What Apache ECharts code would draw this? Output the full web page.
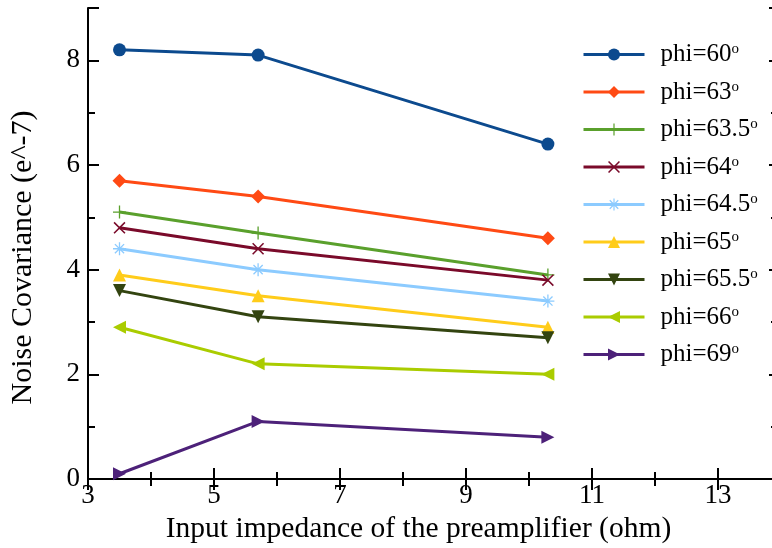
<!DOCTYPE html>
<html>
<head>
<meta charset="utf-8">
<script src="https://cdn.jsdelivr.net/npm/echarts@6/dist/echarts.min.js"></script>
<style>
  html, body { margin: 0; padding: 0; background: #fff; }
  #chart { width: 772px; height: 548px; }
</style>
</head>
<body>
<div id="chart"></div>
<script>
// Input impedance of the preamplifier (ohm)
const impedance = [3.5, 5.7, 10.3];

// Noise covariance (e^-7) for each angle phi
const phiLabels = ['60', '63', '63.5', '64', '64.5', '65', '65.5', '66', '69'];
const phi60   = [8.2, 8.1, 6.4];
const phi63   = [5.7, 5.4, 4.6];
const phi63_5 = [5.1, 4.7, 3.9];
const phi64   = [4.8, 4.4, 3.8];
const phi64_5 = [4.4, 4.0, 3.4];
const phi65   = [3.9, 3.5, 2.9];
const phi65_5 = [3.6, 3.1, 2.7];
const phi66   = [2.9, 2.2, 2.0];
const phi69   = [0.1, 1.1, 0.8];
const seriesValues = [phi60, phi63, phi63_5, phi64, phi64_5, phi65, phi65_5, phi66, phi69];

const xTickLabels = [3, 5, 7, 9, 11, 13];
const yTickLabels = [0, 2, 4, 6, 8];

const colors = ['#0c4a8e', '#ff4a14', '#5aa02c', '#7a0a2a', '#8ccbff',
                '#ffcc1a', '#334410', '#aacc00', '#4d2179'];

// marker shapes drawn as filled bars
const plusPath = 'path://M-1,-10L1,-10L1,10L-1,10ZM-10,-1L10,-1L10,1L-10,1Z';
const crossPath = 'path://M-6.36,-7.78L7.78,6.36L6.36,7.78L-7.78,-6.36ZM-7.78,6.36L6.36,-7.78L7.78,-6.36L-6.36,7.78Z';
const starPath = 'path://M-1,-10L1,-10L1,10L-1,10ZM-10,-1L10,-1L10,1L-10,1Z' +
  'M-6.36,-7.78L7.78,6.36L6.36,7.78L-7.78,-6.36ZM-7.78,6.36L6.36,-7.78L7.78,-6.36L-6.36,7.78Z';

const markers = [
  { symbol: 'circle',   size: 13, rotate: 0 },
  { symbol: 'diamond',  size: 14, rotate: 0 },
  { symbol: plusPath,   size: 13, rotate: 0 },
  { symbol: crossPath,  size: 12, rotate: 0 },
  { symbol: starPath,   size: 13, rotate: 0 },
  { symbol: 'triangle', size: 13, rotate: 0 },
  { symbol: 'triangle', size: 13, rotate: 180 },
  { symbol: 'triangle', size: 13, rotate: 90 },
  { symbol: 'triangle', size: 13, rotate: -90 }
];

const FONT = 'Liberation Serif';
const X_MIN = 3, X_MAX = 14, Y_MIN = 0, Y_MAX = 9;

function frameAxis(base, extra) {
  return Object.assign({
    min: base.min, max: base.max, interval: base.interval,
    axisLine: { show: false },
    axisLabel: { show: false },
    splitLine: { show: false },
    axisTick: { show: true, inside: true, length: base.tick, lineStyle: { color: '#000', width: 2 } }
  }, extra);
}

const series = seriesValues.map((vals, i) => ({
  name: 'phi=' + phiLabels[i],
  type: 'line',
  xAxisIndex: 0,
  yAxisIndex: 0,
  data: impedance.map((x, k) => [x, vals[k]]),
  color: colors[i],
  symbol: markers[i].symbol,
  symbolSize: markers[i].size,
  symbolRotate: markers[i].rotate,
  showAllSymbol: true,
  lineStyle: { width: 3, color: colors[i] },
  itemStyle: { color: colors[i] },
  emphasis: { disabled: true },
  animation: false
}));

const chart = echarts.init(document.getElementById('chart'));
chart.setOption({
  backgroundColor: '#fff',
  animation: false,
  // the frame runs on past the right edge of the canvas
  grid: { left: 88, top: 8, width: 693, height: 471, containLabel: false, outerBoundsMode: 'none' },
  legend: {
    orient: 'vertical',
    left: 577,
    top: 37,
    itemWidth: 61,
    itemHeight: 15,
    itemGap: 12.5,
    data: series.map(s => s.name),
    formatter: name => name + '{sup|o}',
    lineStyle: { width: 3 },
    textStyle: {
      fontFamily: FONT, fontSize: 25, color: '#000', lineHeight: 24.5,
      padding: [0, 0, 0, 11],
      rich: { sup: { fontFamily: FONT, fontSize: 15, color: '#000', lineHeight: 24.5, padding: [0, 0, 10, 0] } }
    }
  },
  xAxis: [
    {
      type: 'value', position: 'bottom', min: X_MIN, max: X_MAX, interval: 1,
      name: 'Input impedance of the preamplifier (ohm)',
      nameLocation: 'middle', nameGap: 31,
      nameTextStyle: { fontFamily: FONT, fontSize: 29.5, color: '#000', padding: [0, 32, 0, 0] },
      axisLine: { show: true, lineStyle: { color: '#000', width: 2 } },
      axisTick: { show: true, inside: true, length: 7, lineStyle: { color: '#000', width: 2 } },
      axisLabel: {
        fontFamily: FONT, fontSize: 27, color: '#000', margin: 3,
        formatter: v => (xTickLabels.indexOf(v) >= 0 ? String(v) : '')
      },
      splitLine: { show: false }
    },
    frameAxis({ min: X_MIN, max: X_MAX, interval: 2, tick: 11 }, { type: 'value', position: 'bottom' }),
    frameAxis({ min: X_MIN, max: X_MAX, interval: 1, tick: 7 }, {
      type: 'value', position: 'top',
      axisLine: { show: true, lineStyle: { color: '#000', width: 2 } }
    }),
    frameAxis({ min: X_MIN, max: X_MAX, interval: 2, tick: 11 }, { type: 'value', position: 'top' })
  ],
  yAxis: [
    {
      type: 'value', position: 'left', min: Y_MIN, max: Y_MAX, interval: 1,
      name: 'Noise Covariance (e^-7)',
      nameLocation: 'middle', nameGap: 50,
      nameTextStyle: { fontFamily: FONT, fontSize: 30, color: '#000', padding: [0, 28, 0, 0] },
      axisLine: { show: true, lineStyle: { color: '#000', width: 2 } },
      axisTick: { show: true, inside: true, length: 7, lineStyle: { color: '#000', width: 2 } },
      axisLabel: {
        fontFamily: FONT, fontSize: 27, color: '#000', margin: 8,
        formatter: v => (yTickLabels.indexOf(v) >= 0 ? String(v) : '')
      },
      splitLine: { show: false }
    },
    frameAxis({ min: Y_MIN, max: Y_MAX, interval: 2, tick: 11 }, { type: 'value', position: 'left' }),
    frameAxis({ min: Y_MIN, max: Y_MAX, interval: 1, tick: 10 }, {
      type: 'value', position: 'right',
      axisLine: { show: true, lineStyle: { color: '#000', width: 2 } }
    }),
    frameAxis({ min: Y_MIN, max: Y_MAX, interval: 2, tick: 12 }, { type: 'value', position: 'right' })
  ],
  series: series
});
</script>
</body>
</html>
